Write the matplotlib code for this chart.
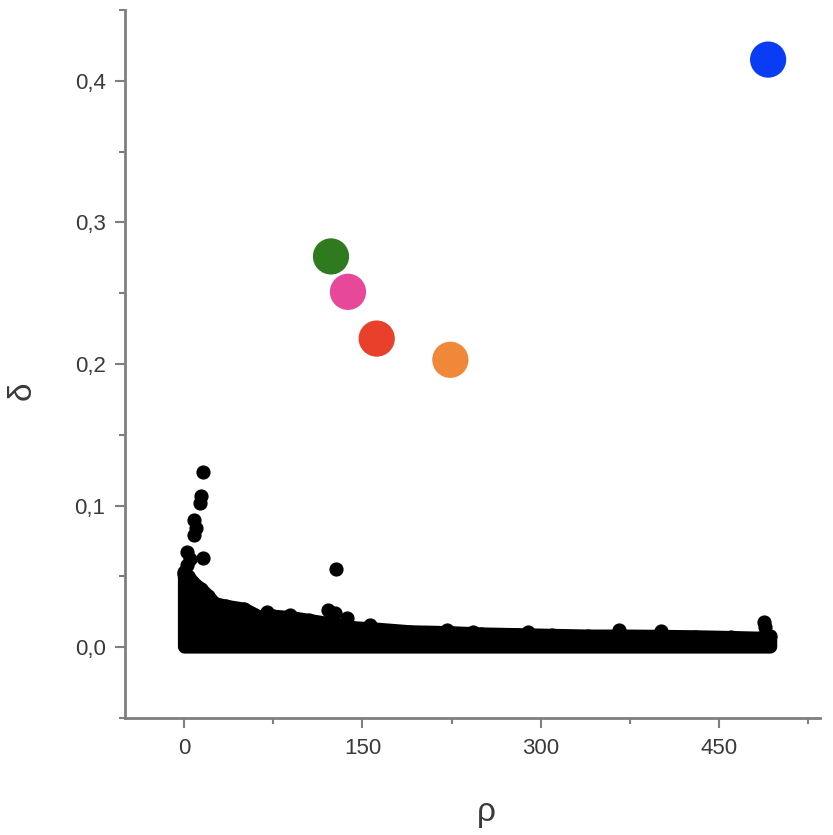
import matplotlib
matplotlib.use("Agg")
import matplotlib.pyplot as plt
from matplotlib.ticker import MultipleLocator, FuncFormatter

# cluster centres (rho, delta)
center_rho = [491.6, 123.5, 137.8, 162.0, 224.0]
center_delta = [0.415, 0.276, 0.251, 0.218, 0.203]
center_colors = ["#0a3cf5", "#2f7a1f", "#e8489a", "#e8402b", "#f0883a"]

# upper edge of the dense black band of ordinary points
band_rho = [0, 3, 8, 14, 20, 25, 35, 50, 64, 75, 90, 105, 120, 140, 160,
            190, 220, 250, 280, 310, 340, 370, 400, 430, 460, 485, 493]
band_delta = [0.052, 0.050, 0.045, 0.041, 0.036, 0.031, 0.029, 0.027, 0.021,
              0.022, 0.021, 0.019, 0.017, 0.014, 0.013, 0.011, 0.0105, 0.0095,
              0.009, 0.0085, 0.008, 0.008, 0.0078, 0.0075, 0.007, 0.0065, 0.008]

# isolated / edge points of the black cloud
pt_rho = [16, 14, 13, 8, 10, 8, 2, 16, 0, 2, 1, 128, 121, 127, 137,
          488, 489, 221, 243, 289, 366, 401, 70, 89, 156, 5]
pt_delta = [0.124, 0.107, 0.102, 0.090, 0.084, 0.079, 0.067, 0.063, 0.053,
            0.058, 0.045, 0.0556, 0.026, 0.024, 0.021,
            0.018, 0.014, 0.0125, 0.011, 0.0105, 0.0125, 0.0115, 0.025,
            0.023, 0.016, 0.062]

gray = "#7f7f7f"
text_col = "#3a3a3a"
plt.rcParams["font.family"] = ["Liberation Sans", "DejaVu Sans"]

fig = plt.figure(figsize=(8.33, 8.35), dpi=100)
ax = fig.add_axes([0.150, 0.140, 0.834, 0.848])

# dense core
ax.fill_between(band_rho, 0.0008, band_delta, color="black", lw=10,
                edgecolor="black", joinstyle="round", capstyle="round", zorder=2)
ax.scatter(band_rho, band_delta, s=85, color="black", zorder=3)
ax.scatter(pt_rho, pt_delta, s=85, color="black", zorder=3)

# cluster centres
ax.scatter(center_rho, center_delta, s=680, c=center_colors, zorder=4,
           linewidths=0)

ax.set_xlim(-50, 535)
ax.set_ylim(-0.05, 0.45)

for s in ["top", "right"]:
    ax.spines[s].set_visible(False)
for s in ["left", "bottom"]:
    ax.spines[s].set_color(gray)
    ax.spines[s].set_linewidth(2)

ax.xaxis.set_minor_locator(MultipleLocator(75))
ax.yaxis.set_minor_locator(MultipleLocator(0.05))
ax.set_xticks([0, 150, 300, 450])
ax.set_yticks([0.0, 0.1, 0.2, 0.3, 0.4])
ax.yaxis.set_major_formatter(FuncFormatter(lambda v, p: f"{v:.1f}".replace(".", ",")))

ax.tick_params(which="major", length=7, width=1.5, color=gray,
               labelsize=16, labelcolor=text_col, pad=7)
ax.tick_params(which="minor", length=4, width=1.5, color=gray)

ax.set_xlabel("ρ", fontsize=24, color=text_col)
ax.set_ylabel("δ", fontsize=24, color=text_col)
ax.xaxis.set_label_coords(0.52, -0.112)
ax.yaxis.set_label_coords(-0.125, 0.463)

fig.savefig("out.png", dpi=100)
